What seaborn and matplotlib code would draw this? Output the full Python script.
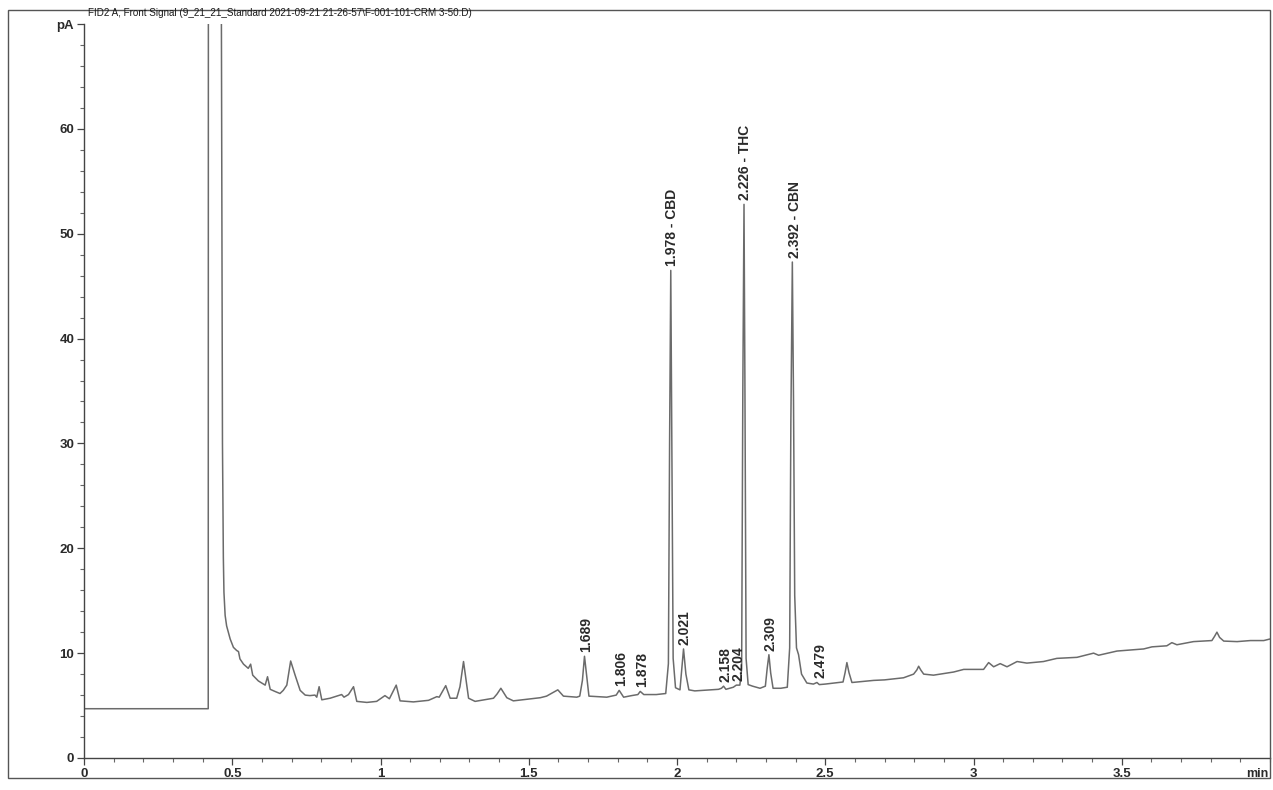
import numpy as np
import pandas as pd
import matplotlib
matplotlib.use("Agg")
import matplotlib.pyplot as plt
import seaborn as sns
from matplotlib import font_manager
from matplotlib.patches import Rectangle
from matplotlib.ticker import MultipleLocator

# FID2 A trace (time in min, signal in pA)
trace_time = [
    0.000, 0.419, 0.4195, 0.463, 0.467, 0.470, 0.472, 0.476, 0.481, 0.493,
    0.504, 0.515, 0.521, 0.526, 0.538, 0.554, 0.562, 0.569, 0.588, 0.611,
    0.619, 0.628, 0.644, 0.661, 0.672, 0.684, 0.697, 0.712, 0.729, 0.746,
    0.762, 0.779, 0.785, 0.793, 0.802, 0.830, 0.852, 0.869, 0.877, 0.892,
    0.909, 0.920, 0.954, 0.987, 1.015, 1.030, 1.053, 1.066, 1.111, 1.162,
    1.190, 1.198, 1.220, 1.235, 1.257, 1.268, 1.280, 1.290, 1.297, 1.319,
    1.381, 1.393, 1.406, 1.426, 1.448, 1.539, 1.560, 1.598, 1.617, 1.662,
    1.672, 1.681, 1.688, 1.695, 1.703, 1.763, 1.795, 1.805, 1.820, 1.847,
    1.868, 1.876, 1.888, 1.930, 1.962, 1.971, 1.975, 1.979, 1.983, 1.987,
    1.995, 2.010, 2.016, 2.022, 2.030, 2.040, 2.060, 2.140, 2.150, 2.157,
    2.165, 2.190, 2.200, 2.212, 2.218, 2.222, 2.226, 2.229, 2.233, 2.240,
    2.255, 2.280, 2.298, 2.304, 2.310, 2.316, 2.324, 2.350, 2.372, 2.380,
    2.384, 2.389, 2.393, 2.397, 2.403, 2.410, 2.420, 2.438, 2.460, 2.472,
    2.480, 2.500, 2.530, 2.560, 2.567, 2.573, 2.580, 2.590, 2.663, 2.700,
    2.764, 2.798, 2.809, 2.815, 2.822, 2.832, 2.865, 2.933, 2.967, 3.034,
    3.051, 3.068, 3.090, 3.113, 3.147, 3.180, 3.236, 3.281, 3.349, 3.405,
    3.422, 3.484, 3.574, 3.602, 3.652, 3.669, 3.686, 3.742, 3.804, 3.813,
    3.821, 3.830, 3.844, 3.889, 3.934, 3.979, 4.000,
]
trace_signal = [
    4.70, 4.70, 75.0, 75.0, 30.0, 19.1, 15.8, 13.6, 12.6, 11.35,
    10.55, 10.25, 10.15, 9.45, 8.95, 8.55, 8.95, 7.90, 7.35, 6.95,
    7.75, 6.55, 6.35, 6.15, 6.45, 6.95, 9.25, 7.90, 6.45, 6.00,
    5.95, 6.00, 5.80, 6.80, 5.55, 5.70, 5.90, 6.05, 5.80, 6.05,
    6.80, 5.40, 5.30, 5.40, 5.95, 5.65, 6.95, 5.45, 5.35, 5.50,
    5.85, 5.80, 6.90, 5.70, 5.70, 6.80, 9.20, 7.10, 5.70, 5.40,
    5.70, 6.10, 6.65, 5.75, 5.45, 5.75, 5.90, 6.50, 5.90, 5.80,
    5.90, 7.40, 9.70, 7.90, 5.90, 5.80, 6.00, 6.45, 5.80, 5.95,
    6.05, 6.35, 6.05, 6.05, 6.15, 9.00, 30.0, 46.5, 28.0, 9.50,
    6.70, 6.50, 8.50, 10.4, 8.00, 6.50, 6.40, 6.55, 6.65, 6.85,
    6.55, 6.75, 6.95, 6.95, 8.50, 35.0, 52.8, 36.0, 9.50, 7.00,
    6.85, 6.65, 6.85, 8.50, 9.85, 8.10, 6.65, 6.65, 6.75, 10.5,
    32.0, 47.3, 34.0, 15.5, 10.5, 9.85, 8.00, 7.15, 7.05, 7.20,
    7.00, 7.05, 7.15, 7.25, 8.15, 9.10, 8.15, 7.20, 7.40, 7.45,
    7.65, 8.00, 8.40, 8.75, 8.40, 8.00, 7.90, 8.20, 8.45, 8.45,
    9.10, 8.70, 9.00, 8.70, 9.20, 9.05, 9.20, 9.50, 9.60, 10.0,
    9.80, 10.2, 10.4, 10.6, 10.7, 11.0, 10.8, 11.1, 11.2, 11.6,
    12.0, 11.5, 11.15, 11.1, 11.2, 11.2, 11.35,
]

# integrated peaks with their printed labels
peak_rt = [1.689, 1.806, 1.878, 1.978, 2.021, 2.158, 2.204, 2.226, 2.309, 2.392, 2.479]
peak_apex = [9.7, 6.45, 6.35, 46.5, 10.4, 6.85, 6.95, 52.8, 9.85, 47.3, 7.2]
peak_name = ["", "", "", "CBD", "", "", "", "THC", "", "CBN", ""]

x_ticks = [0, 0.5, 1, 1.5, 2, 2.5, 3, 3.5]
x_tick_labels = ["0", "0.5", "1", "1.5", "2", "2.5", "3", "3.5"]
y_ticks = [0, 10, 20, 30, 40, 50, 60, 70]
y_tick_labels = ["0", "10", "20", "30", "40", "50", "60", "pA"]

title = "FID2 A, Front Signal (9_21_21_Standard 2021-09-21 21-26-57\\F-001-101-CRM 3-50.D)"

sns.set_theme(style="ticks")
plt.rcParams["font.family"] = ["Liberation Sans", "DejaVu Sans"]

# header on the printout is a narrow face; use it if installed
installed = {f.name for f in font_manager.fontManager.ttflist}
if "Liberation Sans Narrow" in installed:
    title_font, title_size = "Liberation Sans Narrow", 7.8
else:
    title_font, title_size = "Liberation Sans", 7.1

ink = "#2a2a2a"
trace_col = "#6b6b6b"

fig = plt.figure(figsize=(12.73, 7.90), dpi=100)
ax = fig.add_axes([84 / 1273, 32 / 790, 1186 / 1273, 734 / 790])

df = pd.DataFrame({"time": trace_time, "signal": trace_signal})
sns.lineplot(data=df, x="time", y="signal", ax=ax, sort=False, estimator=None,
             color=trace_col, linewidth=1.1)

ax.set_xlim(0, 4.0)
ax.set_ylim(0, 70)
ax.set_xlabel("")
ax.set_ylabel("")

for side in ["top", "right"]:
    ax.spines[side].set_visible(False)
for side in ["left", "bottom"]:
    ax.spines[side].set_color("#444444")
    ax.spines[side].set_linewidth(1.0)

ax.set_xticks(x_ticks)
ax.set_xticklabels(x_tick_labels)
ax.xaxis.set_minor_locator(MultipleLocator(0.1))
ax.set_yticks(y_ticks)
ax.set_yticklabels(y_tick_labels)
ax.yaxis.set_minor_locator(MultipleLocator(2))

ax.tick_params(axis="both", which="major", direction="out", length=5, width=0.9,
               color="#444444", labelsize=9.5, labelcolor=ink, pad=2)
ax.tick_params(axis="both", which="minor", direction="out", length=3, width=0.8,
               color="#666666")
for lab in ax.get_xticklabels() + ax.get_yticklabels():
    lab.set_fontweight("bold")

ax.annotate("min", xy=(1, 0), xycoords="axes fraction", xytext=(-1, -7),
            textcoords="offset points", ha="right", va="top",
            fontsize=9, fontweight="bold", color=ink)

# peak labels above each apex
for rt, top, name in zip(peak_rt, peak_apex, peak_name):
    txt = f"{rt:.3f}" if name == "" else f"{rt:.3f} - {name}"
    ax.annotate(txt, xy=(rt, top), xytext=(1, 3), textcoords="offset points",
                rotation=90, ha="center", va="bottom", fontsize=10,
                fontweight="bold", color=ink)

# printout frame and header
fig.add_artist(Rectangle((8 / 1273, 12 / 790), 1262 / 1273, 768 / 790,
                         transform=fig.transFigure, fill=False,
                         edgecolor="#555555", linewidth=1.0))
fig.text(88 / 1273, 1 - 8 / 790, title, ha="left", va="top",
         fontsize=title_size, family=[title_font, "DejaVu Sans"], color="#1a1a1a")

fig.savefig("out.png", dpi=100, facecolor="white")
